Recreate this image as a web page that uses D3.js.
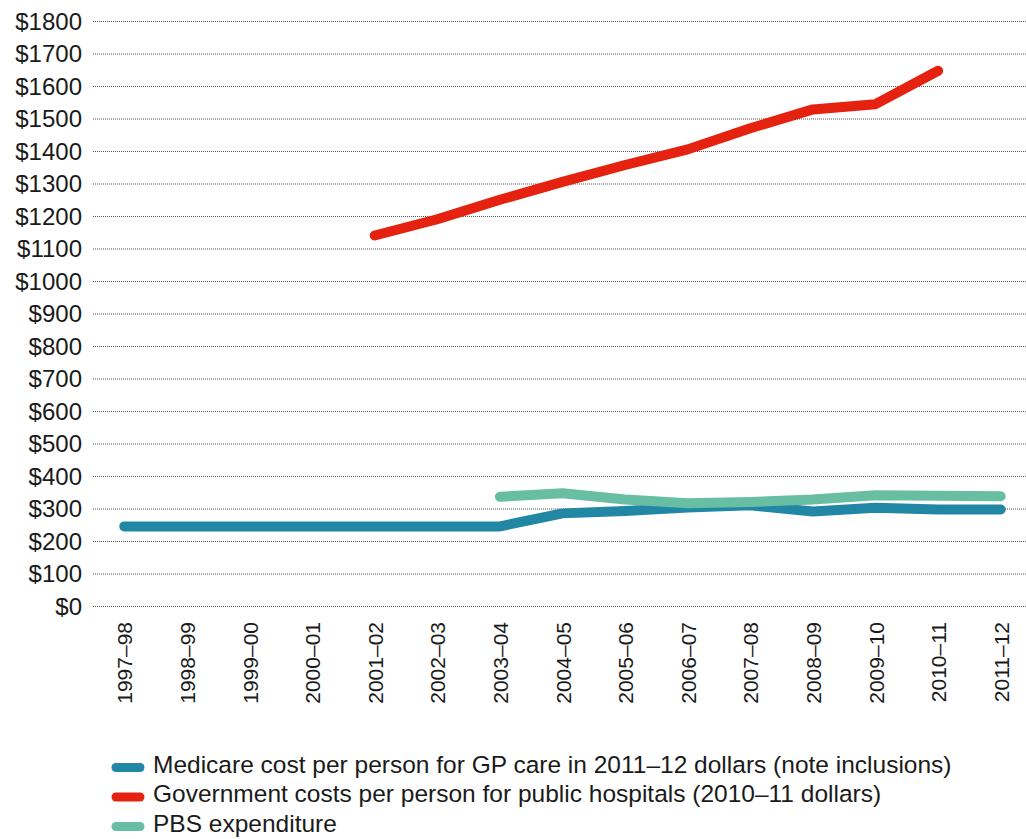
<!DOCTYPE html>
<html>
<head>
<meta charset="utf-8">
<script src="https://cdn.jsdelivr.net/npm/d3@7"></script>
<style>
  html, body { margin: 0; padding: 0; background: #fff; }
  svg { display: block; }
  text { font-family: "Liberation Sans", Arial, Helvetica, sans-serif; fill: #1a1a1a; }
</style>
</head>
<body>
<svg id="chart" width="1026" height="839"></svg>
<script>
// Financial years along the x axis
const years = ["1997–98","1998–99","1999–00","2000–01","2001–02","2002–03","2003–04",
  "2004–05","2005–06","2006–07","2007–08","2008–09","2009–10","2010–11","2011–12"];

// Dollars per person; null where a series has no figure for that year
const medicareGP = [245,245,245,245,245,245,245,285,292,303,310,291,302,297,297];
const publicHospitals = [null,null,null,null,1140,1190,1250,1305,1357,1405,1470,1528,1544,1647,null];
const pbsExpenditure = [null,null,null,null,null,null,336,347,328,316,320,328,341,339,338];

const yTicks = [0,100,200,300,400,500,600,700,800,900,1000,1100,1200,1300,1400,1500,1600,1700,1800];

const seriesNames = [
  "Medicare cost per person for GP care in 2011–12 dollars (note inclusions)",
  "Government costs per person for public hospitals (2010–11 dollars)",
  "PBS expenditure"
];
const seriesColors = ["#2187a5", "#e5210f", "#68bea2"];
const seriesValues = [medicareGP, publicHospitals, pbsExpenditure];

const svg = d3.select("#chart");

const x = d3.scalePoint().domain(years).range([93, 1032]).padding(0.5);
const y = d3.scaleLinear().domain([0, 1800]).range([606, 21]);

// Dotted horizontal gridlines
svg.append("g")
  .selectAll("line")
  .data(yTicks)
  .join("line")
  .attr("x1", 93).attr("x2", 1026)
  .attr("y1", d => y(d) + 0.5).attr("y2", d => y(d) + 0.5)
  .attr("stroke", "#555")
  .attr("stroke-width", 1)
  .attr("stroke-dasharray", "1,1");

// Y axis labels
const yAxis = d3.axisLeft(y).tickValues(yTicks).tickSize(0).tickPadding(0)
  .tickFormat(d => "$" + d);
svg.append("g")
  .attr("transform", "translate(82,0)")
  .call(yAxis)
  .call(g => g.select(".domain").remove())
  .call(g => g.selectAll("text")
    .attr("font-size", 24)
    .attr("font-family", "Liberation Sans, Arial, sans-serif")
    .attr("fill", "#1a1a1a")
    .attr("dy", "0.35em"));

// X axis labels, rotated
const xAxis = d3.axisBottom(x).tickSize(0).tickPadding(0);
svg.append("g")
  .attr("transform", "translate(0,622)")
  .call(xAxis)
  .call(g => g.select(".domain").remove())
  .call(g => g.selectAll("text")
    .attr("font-size", 21)
    .attr("font-family", "Liberation Sans, Arial, sans-serif")
    .attr("fill", "#1a1a1a")
    .attr("text-anchor", "end")
    .attr("transform", "rotate(-90)")
    .attr("x", 0)
    .attr("y", 0)
    .attr("dy", "0.36em"));

// Series lines
const line = d3.line()
  .defined(d => d != null)
  .x((d, i) => x(years[i]))
  .y(d => y(d));

// Draw order: blue, green over blue, red
const order = [0, 2, 1];
order.forEach(k => {
  svg.append("path")
    .datum(seriesValues[k])
    .attr("d", line)
    .attr("fill", "none")
    .attr("stroke", seriesColors[k])
    .attr("stroke-width", 10)
    .attr("stroke-linecap", "round")
    .attr("stroke-linejoin", "round");
});

// Legend
const legend = svg.append("g");
seriesNames.forEach((name, i) => {
  const cy = 767.5 + i * 29.5;
  legend.append("line")
    .attr("x1", 116).attr("x2", 140)
    .attr("y1", cy).attr("y2", cy)
    .attr("stroke", seriesColors[i])
    .attr("stroke-width", 9)
    .attr("stroke-linecap", "round");
  legend.append("text")
    .attr("x", 153).attr("y", cy + 5)
    .attr("font-size", 24.5)
    .text(name);
});
</script>
</body>
</html>
